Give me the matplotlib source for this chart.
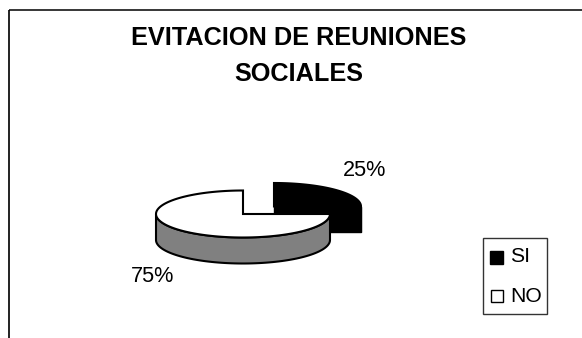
import numpy as np
import matplotlib
matplotlib.use("Agg")
import matplotlib.pyplot as plt
from matplotlib.patches import Polygon, Rectangle

title_lines = ["EVITACION DE REUNIONES", "SOCIALES"]
categories = ["SI", "NO"]
shares = [25, 75]
share_labels = ["25%", "75%"]

W, H = 582, 338
plt.rcParams["font.family"] = ["Liberation Sans", "DejaVu Sans"]
fig = plt.figure(figsize=(W / 100, H / 100), dpi=100, facecolor="white")
ax = fig.add_axes([0, 0, 1, 1])
ax.set_xlim(0, W)
ax.set_ylim(H, 0)
ax.axis("off")

RX, RY, DEPTH = 87, 23.5, 26
EDGE = dict(edgecolor="black", linewidth=1.5, joinstyle="miter")


def rim(cx, cy, start, sweep, n=120):
    """Ellipse arc, clockwise from 12 o'clock, for a share of the pie."""
    t = np.radians(start + np.linspace(0, sweep, n))
    return np.column_stack([cx + RX * np.sin(t), cy - RY * np.cos(t)])


def draw_slice(cx, cy, start, share, top, side):
    sweep = 360 * share / 100
    arc = rim(cx, cy, start, sweep)
    # outer wall: only the part of the rim facing the viewer
    front = arc[(np.cos(np.radians(start + np.linspace(0, sweep, len(arc)))) <= 0.001)]
    if len(front):
        wall = np.vstack([front, (front + [0, DEPTH])[::-1]])
        ax.add_patch(Polygon(wall, closed=True, facecolor=side, **EDGE))
    ax.add_patch(Polygon(np.vstack([[cx, cy], arc]), closed=True, facecolor=top, **EDGE))


# SI slice is pulled out towards the upper right, NO sits in front of it
draw_slice(274, 206.5, 0, shares[0], "black", "black")
ax.add_patch(Rectangle((274, 206.5), 87, DEPTH - 0.5, facecolor="black", edgecolor="black", linewidth=1))
draw_slice(243, 214, 360 * shares[0] / 100, shares[1], "white", "#808080")

ax.text(364.5, 170, share_labels[0], fontsize=15.6, ha="center", va="center", color="black")
ax.text(152.5, 277, share_labels[1], fontsize=15.6, ha="center", va="center", color="black")

ax.text(299, 38, title_lines[0], fontsize=18.2, fontweight="bold", ha="center", va="center")
ax.text(299, 74, title_lines[1], fontsize=18.2, fontweight="bold", ha="center", va="center")

# chart frame: open at the right and bottom edges
ax.plot([8.5, 8.5], [338, 9.5], color="#222222", lw=1.4, solid_capstyle="butt")
ax.plot([8.5, 582], [9.5, 9.5], color="black", lw=1.1, solid_capstyle="butt")

# legend box
ax.add_patch(Rectangle((483, 237.5), 64, 76.5, facecolor="white", edgecolor="#333333", linewidth=1))
ax.add_patch(Rectangle((490, 251), 13, 13, facecolor="black", edgecolor="black", linewidth=1))
ax.add_patch(Rectangle((490.5, 289.5), 12.5, 12.5, facecolor="white", edgecolor="black", linewidth=1))
ax.text(510.5, 257, categories[0], fontsize=15.2, ha="left", va="center")
ax.text(510.5, 296.5, categories[1], fontsize=15.2, ha="left", va="center")

fig.savefig("out.png", dpi=100, facecolor="white")
